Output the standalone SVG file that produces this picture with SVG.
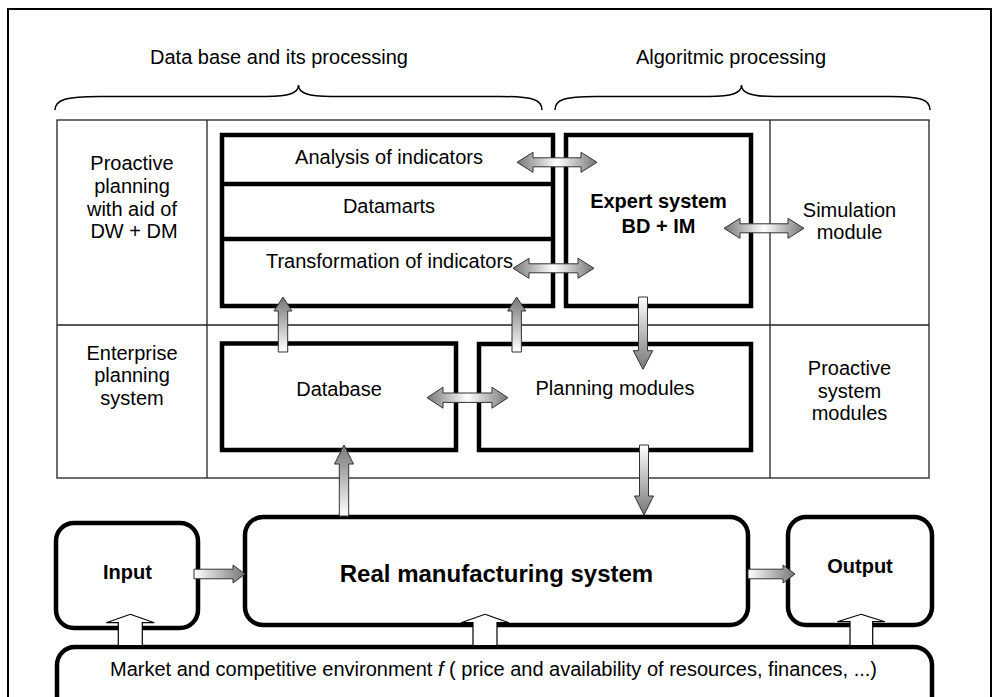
<svg xmlns="http://www.w3.org/2000/svg" width="993" height="697" viewBox="0 0 993 697">
<defs>
<linearGradient id="gH" x1="0" y1="0" x2="1" y2="0"><stop offset="0" stop-color="#767676"/><stop offset="0.5" stop-color="#ffffff"/><stop offset="1" stop-color="#767676"/></linearGradient>
<linearGradient id="gUp" x1="0" y1="0" x2="0" y2="1"><stop offset="0" stop-color="#767676"/><stop offset="1" stop-color="#ffffff"/></linearGradient>
<linearGradient id="gDown" x1="0" y1="0" x2="0" y2="1"><stop offset="0" stop-color="#ffffff"/><stop offset="1" stop-color="#767676"/></linearGradient>
<linearGradient id="gRight" x1="0" y1="0" x2="1" y2="0"><stop offset="0" stop-color="#ffffff"/><stop offset="1" stop-color="#767676"/></linearGradient>
</defs>
<style>
.t{font-family:"Liberation Sans",Arial,sans-serif;font-size:20px;fill:#000;text-anchor:middle}
.b{font-weight:bold}
.grid{fill:none;stroke:#222;stroke-width:1.3}
.thick{fill:#fff;stroke:#000;stroke-width:4.5}
.rnd{fill:#fff;stroke:#000;stroke-width:4.5}
.arr{stroke:#333;stroke-width:1}
.wa{fill:#fff;stroke:#000;stroke-width:1.2}
.brace{fill:none;stroke:#000;stroke-width:1.5}
</style>
<rect x="0" y="0" width="993" height="697" fill="#fff"/>
<rect x="8" y="9" width="983" height="710" fill="none" stroke="#000" stroke-width="2"/>

<g id="header-data">
<text class="t" x="279" y="64">Data base and its processing</text>
<path class="brace" d="M55,110 C55,100 65,96.5 100,96.5 L266,96.5 C289,96.5 298.5,93 298.5,85 C298.5,93 308,96.5 331,96.5 L500,96.5 C534,96.5 542,100 542,110"/>
</g>
<g id="header-algo">
<text class="t" x="731" y="64">Algoritmic processing</text>
<path class="brace" d="M555,110 C555,100 563,96.5 596,96.5 L709,96.5 C732,96.5 741.5,93 741.5,85 C741.5,93 751,96.5 774,96.5 L890,96.5 C922,96.5 930,100 930,110"/>
</g>

<g id="grid">
<rect class="grid" x="57" y="120" width="872" height="358"/>
<line class="grid" x1="207" y1="120" x2="207" y2="478"/>
<line class="grid" x1="770" y1="120" x2="770" y2="478"/>
<line class="grid" x1="57" y1="325" x2="929" y2="325"/>
</g>

<g id="proactive-planning">
<text class="t" x="132" y="170">Proactive</text>
<text class="t" x="132" y="193">planning</text>
<text class="t" x="132" y="215.5">with aid of</text>
<text class="t" x="134" y="238">DW + DM</text>
</g>
<g id="enterprise-planning">
<text class="t" x="132" y="359.5">Enterprise</text>
<text class="t" x="132" y="382">planning</text>
<text class="t" x="132" y="404.5">system</text>
</g>
<g id="simulation-module">
<text class="t" x="849.5" y="216.5">Simulation</text>
<text class="t" x="849.5" y="238.5">module</text>
</g>
<g id="proactive-system-modules">
<text class="t" x="849.5" y="375">Proactive</text>
<text class="t" x="849.5" y="397.5">system</text>
<text class="t" x="849.5" y="420">modules</text>
</g>

<g id="dw-stack">
<rect class="thick" x="222" y="135" width="331" height="171"/>
<line stroke="#000" stroke-width="4.5" x1="222" y1="184" x2="553" y2="184"/>
<line stroke="#000" stroke-width="4.5" x1="222" y1="239" x2="553" y2="239"/>
<text class="t" x="389" y="164">Analysis of indicators</text>
<text class="t" x="389" y="212.7">Datamarts</text>
<text class="t" x="389.5" y="268.3">Transformation of indicators</text>
</g>
<g id="expert-system">
<rect class="thick" x="566" y="135" width="185" height="171"/>
<text class="t b" x="658.5" y="208.3">Expert system</text>
<text class="t b" x="658.5" y="233.3">BD + IM</text>
</g>
<g id="database">
<rect class="thick" x="222" y="343.5" width="234" height="106.5"/>
<text class="t" x="339" y="396">Database</text>
</g>
<g id="planning-modules">
<rect class="thick" x="479" y="344" width="272" height="106"/>
<text class="t" x="615" y="395">Planning modules</text>
</g>

<g id="input">
<rect class="rnd" x="56" y="523" width="142" height="105" rx="18"/>
<text class="t b" x="127.5" y="579">Input</text>
</g>
<g id="real-manufacturing-system">
<rect class="rnd" x="245" y="517" width="503" height="108" rx="18"/>
<text class="t b" x="496.5" y="581.5" style="font-size:24px">Real manufacturing system</text>
</g>
<g id="output">
<rect class="rnd" x="788" y="517" width="144" height="108" rx="18"/>
<text class="t b" x="860" y="573.3">Output</text>
</g>
<g id="market">
<rect class="rnd" x="57" y="647" width="875" height="80" rx="18"/>
<text class="t" x="110" y="676" style="text-anchor:start">Market and competitive environment <tspan font-style="italic">f</tspan> ( price and availability of resources, finances, ...)</text>
</g>

<g id="connectors">
<path class="arr" fill="url(#gH)" d="M517,162.3 L533,152.3 L533,157.8 L581,157.8 L581,152.3 L597,162.3 L581,172.3 L581,166.8 L533,166.8 L533,172.3 Z"/>
<path class="arr" fill="url(#gH)" d="M513,268.3 L529,258.3 L529,263.8 L578,263.8 L578,258.3 L594,268.3 L578,278.3 L578,272.8 L529,272.8 L529,278.3 Z"/>
<path class="arr" fill="url(#gH)" d="M724,228.3 L740,218.3 L740,223.8 L788,223.8 L788,218.3 L804,228.3 L788,238.3 L788,232.8 L740,232.8 L740,238.3 Z"/>
<path class="arr" fill="url(#gH)" d="M427,397.7 L443,387.2 L443,393 L492,393 L492,387.2 L508,397.7 L492,408.2 L492,402.4 L443,402.4 L443,408.2 Z"/>
<path class="arr" fill="url(#gUp)" d="M283,297 L292,311 L287.7,311 L287.7,352 L278.3,352 L278.3,311 L274,311 Z"/>
<path class="arr" fill="url(#gUp)" d="M516.7,297 L525.7,311 L521.4,311 L521.4,352 L512,352 L512,311 L507.7,311 Z"/>
<path class="arr" fill="url(#gDown)" d="M638.5,297 L647.5,297 L647.5,350.7 L652.7,350.7 L643,369.3 L633.3,350.7 L638.5,350.7 Z"/>
<path class="arr" fill="url(#gUp)" d="M344,445 L353.5,464 L348.7,464 L348.7,516 L339.3,516 L339.3,464 L334.5,464 Z"/>
<path class="arr" fill="url(#gDown)" d="M639.5,445 L648.5,445 L648.5,496 L653.5,496 L644,515 L634.5,496 L639.5,496 Z"/>
<path class="arr" fill="url(#gRight)" d="M194,569.2 L233,569.2 L233,565 L245,574 L233,583 L233,578.8 L194,578.8 Z"/>
<path class="arr" fill="url(#gRight)" d="M748,569.2 L783,569.2 L783,565 L795,574 L783,583 L783,578.8 L748,578.8 Z"/>
<path class="wa" d="M130.3,614.3 L154.3,622.7 L142.3,622.7 L142.3,645.5 L118.3,645.5 L118.3,622.7 L106.3,622.7 Z"/>
<path class="wa" d="M485,614.3 L509,622.7 L497,622.7 L497,645.5 L473,645.5 L473,622.7 L461,622.7 Z"/>
<path class="wa" d="M861,614.3 L885,621.7 L872.7,621.7 L872.7,645.5 L850,645.5 L850,621.7 L837.3,621.7 Z"/>
</g>
</svg>
